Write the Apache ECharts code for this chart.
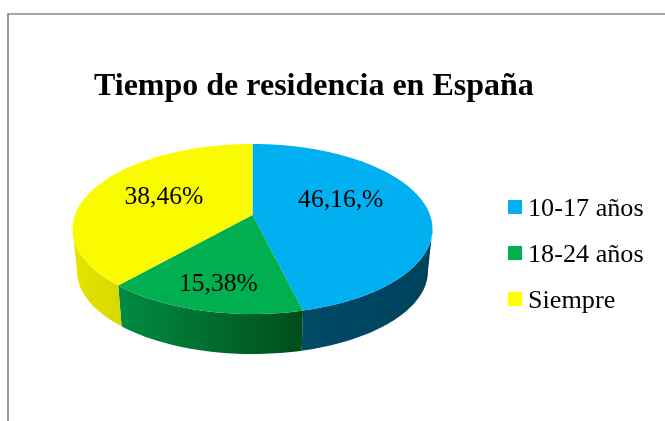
<!DOCTYPE html>
<html>
<head>
<meta charset="utf-8">
<style>html,body{margin:0;padding:0;background:#fff}#c{width:665px;height:421px}</style>
<script src="https://cdn.jsdelivr.net/npm/echarts@6/dist/echarts.min.js"></script>
</head>
<body>
<div id="c"></div>
<script>
const titleText = 'Tiempo de residencia en España';
const categories = ['10-17 años', '18-24 años', 'Siempre'];
const values = [46.16, 15.38, 38.46];
const valueLabels = ['46,16,%', '15,38%', '38,46%'];

const FONT = '"Liberation Serif", "Times New Roman", serif';
const topColors = ['#00B0F0', '#00B050', '#FAFA00'];
const legendColors = ['#00B0F0', '#00B050', '#FFFF00'];
const wallStops = [['#004A68', '#00425C'], ['#008C42', '#004D1C'], ['#E4E400', '#D8D800']];
const labelOffsets = [[1, -10], [-11, 26], [-8, -3]];

// Perspective projection of the pie disc
const P = { cx: 252.5, top: 215, bottom: 257.5, k: 177.5, a: 82.7, c: -0.1647, floorScale: 0.975 };
const SILHOUETTE = Math.asin(-P.c) * 180 / Math.PI;
function project(deg, r, floor) {
  const t = deg * Math.PI / 180;
  const u = Math.sin(t) * r, v = -Math.cos(t) * r;
  const d = 1 + P.c * v;
  const s = floor ? P.floorScale : 1;
  return [P.cx + s * P.k * u / d, (floor ? P.bottom : P.top) + s * P.a * v / d];
}
const total = values.reduce((a, b) => a + b, 0);
function arc(from, to, floor) {
  const pts = [], n = Math.max(2, Math.ceil((to - from) / 1.5));
  for (let i = 0; i <= n; i++) pts.push(project(from + (to - from) * i / n, 1, floor));
  return pts;
}
function sliceRenderer(idx) {
  return function (params, api) {
    const before = values.slice(0, idx).reduce((a, b) => a + b, 0);
    const start = before / total * 360;
    const end = start + api.value(0) / total * 360;
    const ws = Math.max(start, 90 + SILHOUETTE), we = Math.min(end, 270 - SILHOUETTE);
    const topPts = arc(ws, we, false);
    const floorPts = arc(ws, we, true);
    const wall = topPts.concat(floorPts.slice().reverse());
    const xs = wall.map(p => p[0]);
    const face = [project(0, 0, false)].concat(arc(start, end, false));
    const mid = (start + end) / 2;
    const lp = project(mid, 0.5, false);
    return {
      type: 'group',
      children: [
        { type: 'polygon', z2: 1, shape: { points: wall },
          style: { fill: new echarts.graphic.LinearGradient(Math.min(...xs), 0, Math.max(...xs), 0,
            [{ offset: 0, color: wallStops[idx][0] }, { offset: 1, color: wallStops[idx][1] }], true) } },
        { type: 'polygon', z2: 10, shape: { points: face }, style: { fill: topColors[idx] } },
        { type: 'text', z2: 20, x: lp[0] + labelOffsets[idx][0], y: lp[1] + labelOffsets[idx][1],
          style: { text: valueLabels[idx], font: '25.6px ' + FONT, fill: '#000', align: 'center', verticalAlign: 'middle' } }
      ]
    };
  };
}

const chart = echarts.init(document.getElementById('c'), null, { renderer: 'canvas' });
chart.setOption({
  animation: false,
  backgroundColor: '#fff',
  title: { text: titleText, left: 94, top: 71, padding: 0,
    textStyle: { fontFamily: FONT, fontWeight: 'bold', fontSize: 32, color: '#000' } },
  legend: { orient: 'vertical', left: 508, top: 192, padding: 0, itemWidth: 14, itemHeight: 14, itemGap: 16,
    icon: 'rect', selectedMode: false, data: categories,
    formatter: name => '{t|' + name + '}',
    textStyle: { rich: { t: { fontFamily: FONT, fontSize: 26.2, color: '#000', lineHeight: 30, padding: [4, 0, 0, 1] } } } },
  graphic: [
    { type: 'polyline', silent: true, shape: { points: [[8, 421], [8, 14], [665, 14]] },
      style: { stroke: '#868686', lineWidth: 1.7, fill: null } }
  ],
  series: categories.map((name, i) => ({
    type: 'custom', name, coordinateSystem: 'none', silent: true,
    itemStyle: { color: legendColors[i] },
    renderItem: sliceRenderer(i),
    data: [[values[i]]]
  }))
});
</script>
</body>
</html>
